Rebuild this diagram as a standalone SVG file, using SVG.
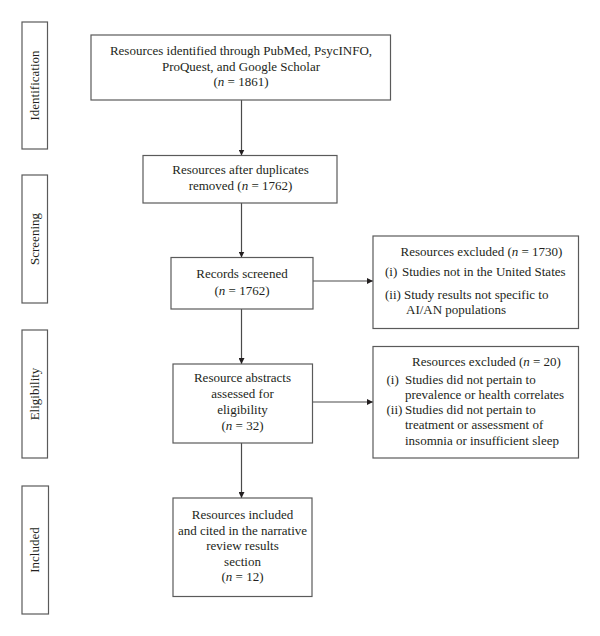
<svg xmlns="http://www.w3.org/2000/svg" width="600" height="636" viewBox="0 0 600 636">
<style>
text{font-family:"Liberation Serif","Times New Roman",serif;font-size:13px;fill:#231f20}
.c{text-anchor:middle}
.box{fill:#fff;stroke:#5a5a5a;stroke-width:1.2}
.side{fill:#fff;stroke:#5a5a5a;stroke-width:1.2}
.conn{stroke:#4a4a4a;stroke-width:1.2;fill:none}
</style>
<defs>
<marker id="ah" viewBox="0 0 10 10" refX="10" refY="5" markerWidth="6" markerHeight="6" markerUnits="userSpaceOnUse" orient="auto">
<path d="M0,0 L10,5 L0,10 Z" fill="#231f20"/>
</marker>
</defs>
<rect width="600" height="636" fill="#fff"/>
<g id="side-identification">
<rect class="side" x="22" y="22" width="25.5" height="127"/>
<text class="c" transform="translate(38.5 85.5) rotate(-90)">Identification</text>
</g>
<g id="side-screening">
<rect class="side" x="22" y="175" width="25.5" height="128"/>
<text class="c" transform="translate(38.5 239) rotate(-90)">Screening</text>
</g>
<g id="side-eligibility">
<rect class="side" x="22" y="330" width="25.5" height="128"/>
<text class="c" transform="translate(38.5 394) rotate(-90)">Eligibility</text>
</g>
<g id="side-included">
<rect class="side" x="22" y="486" width="26.5" height="128"/>
<text class="c" transform="translate(39 550) rotate(-90)">Included</text>
</g>
<g id="connectors">
<line class="conn" x1="241.5" y1="100" x2="241.5" y2="155.5" marker-end="url(#ah)"/>
<line class="conn" x1="241.5" y1="203" x2="241.5" y2="257.5" marker-end="url(#ah)"/>
<line class="conn" x1="241.5" y1="309" x2="241.5" y2="364" marker-end="url(#ah)"/>
<line class="conn" x1="241.5" y1="443" x2="241.5" y2="498" marker-end="url(#ah)"/>
<line class="conn" x1="313" y1="281" x2="373" y2="281" marker-end="url(#ah)"/>
<line class="conn" x1="312.5" y1="402" x2="373" y2="402" marker-end="url(#ah)"/>
</g>
<g id="node-identified">
<rect class="box" x="91" y="35" width="299.5" height="65"/>
<text class="c" x="241" y="55">Resources identified through PubMed, PsycINFO,</text>
<text class="c" x="241" y="70.5">ProQuest, and Google Scholar</text>
<text class="c" x="241" y="86">(<tspan font-style="italic">n</tspan> = 1861)</text>
</g>
<g id="node-duplicates">
<rect class="box" x="143" y="155.5" width="194" height="47.5"/>
<text class="c" x="240.5" y="174">Resources after duplicates</text>
<text class="c" x="240.5" y="189.5">removed (<tspan font-style="italic">n</tspan> = 1762)</text>
</g>
<g id="node-screened">
<rect class="box" x="171" y="257.5" width="142" height="51.5"/>
<text class="c" x="242" y="278">Records screened</text>
<text class="c" x="242" y="295">(<tspan font-style="italic">n</tspan> = 1762)</text>
</g>
<g id="node-excluded1">
<rect class="box" x="373" y="236" width="205.5" height="92.5"/>
<text class="c" x="481.5" y="256">Resources excluded (<tspan font-style="italic">n</tspan> = 1730)</text>
<text x="385" y="275.5">(i)</text>
<text x="402" y="275.5">Studies not in the United States</text>
<text x="385" y="299">(ii)</text>
<text x="404" y="299">Study results not specific to</text>
<text x="406" y="314">AI/AN populations</text>
</g>
<g id="node-abstracts">
<rect class="box" x="173" y="364" width="139.5" height="79"/>
<text class="c" x="242.5" y="382">Resource abstracts</text>
<text class="c" x="242.5" y="398">assessed for</text>
<text class="c" x="242.5" y="414">eligibility</text>
<text class="c" x="242.5" y="429.5">(<tspan font-style="italic">n</tspan> = 32)</text>
</g>
<g id="node-excluded2">
<rect class="box" x="373" y="346.5" width="205.5" height="111.5"/>
<text class="c" x="486.5" y="365.5">Resources excluded (<tspan font-style="italic">n</tspan> = 20)</text>
<text x="386.5" y="383.5">(i)</text>
<text x="405" y="383.5">Studies did not pertain to</text>
<text x="405" y="398.5">prevalence or health correlates</text>
<text x="386.5" y="414">(ii)</text>
<text x="405" y="414">Studies did not pertain to</text>
<text x="405" y="429">treatment or assessment of</text>
<text x="405" y="445">insomnia or insufficient sleep</text>
</g>
<g id="node-included">
<rect class="box" x="173" y="498" width="139" height="98.5"/>
<text class="c" x="242.5" y="518.5">Resources included</text>
<text class="c" x="242.5" y="534.5">and cited in the narrative</text>
<text class="c" x="242.5" y="550">review results</text>
<text class="c" x="242.5" y="565.5">section</text>
<text class="c" x="242.5" y="581">(<tspan font-style="italic">n</tspan> = 12)</text>
</g>
</svg>
